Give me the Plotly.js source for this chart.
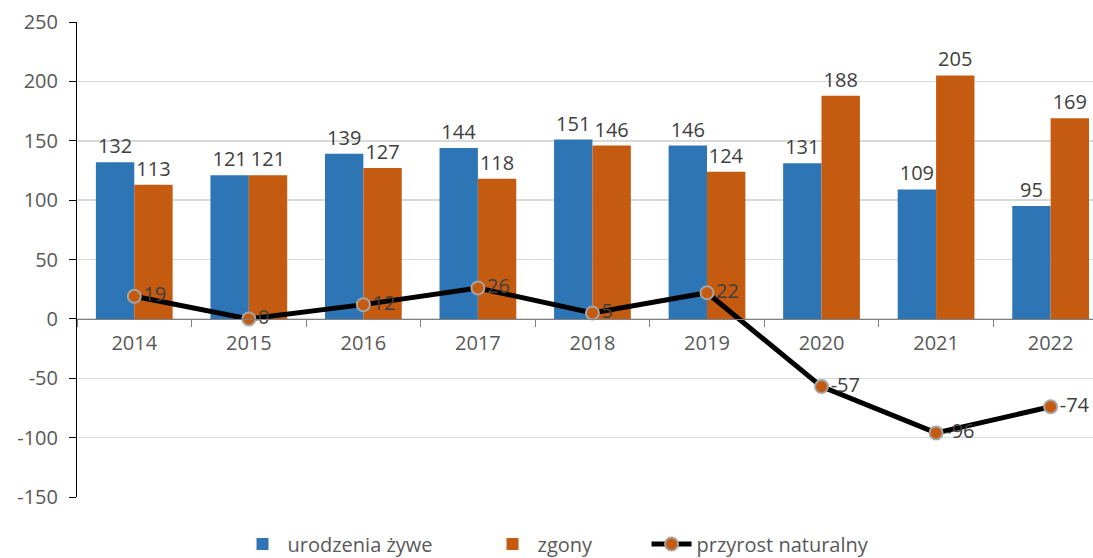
<!DOCTYPE html>
<html><head><meta charset="utf-8">
<script src="https://cdn.plot.ly/plotly-3.0.1.min.js"></script>
<style>html,body{margin:0;padding:0;background:#fff}</style>
</head><body><div id="chart" style="width:1093px;height:558px"></div>
<script>
const years = ['2014','2015','2016','2017','2018','2019','2020','2021','2022'];
const births = [132,121,139,144,151,146,131,109,95];
const deaths = [113,121,127,118,146,124,188,205,169];
const natural = [19,0,12,26,5,22,-57,-96,-74];
const names = ['urodzenia żywe','zgony','przyrost naturalny'];
const yTickVals = [-150,-100,-50,0,50,100,150,200,250];
const yTickText = ['-150','-100','-50','0','50','100','150','200','250'];
const FONT = 'Open Sans, sans-serif';
const txt = {family: FONT, size: 20, color: '#404040'};
const traces = [
  {type:'bar', x:years, y:births, name:names[0], marker:{color:'#2E75B6'}, legendwidth:195,
   text:births.map(String), textposition:'outside', textfont:txt, cliponaxis:false},
  {type:'bar', x:years, y:deaths, name:names[1], marker:{color:'#C55A11'}, legendwidth:104,
   text:deaths.map(String), textposition:'outside', textfont:txt, cliponaxis:false},
  {type:'scatter', mode:'lines+markers+text', x:years, y:natural, name:names[2], legendwidth:220,
   line:{color:'#000000', width:5},
   marker:{color:'#C55A11', size:13, line:{color:'#A5A5A5', width:2}},
   text:natural.map(String), textposition:'middle right', textfont:txt, cliponaxis:false}
];
const layout = {
  width:1093, height:558,
  margin:{l:77, r:0, t:22, b:61, autoexpand:false},
  paper_bgcolor:'#fff', plot_bgcolor:'#fff',
  font:{family:FONT, size:20, color:'#595959'},
  barmode:'group', bargap:0.33, bargroupgap:0,
  showlegend:true,
  legend:{orientation:'h', x:0.158, xanchor:'left', y:-0.099, yanchor:'middle',
          itemwidth:40,
          font:{family:FONT, size:20, color:'#595959'}, traceorder:'normal'},
  xaxis:{type:'category', range:[-0.5, 8.37], anchor:'free', position:0.375,
         showline:true, linecolor:'#808080', linewidth:1.5,
         ticks:'outside', tickson:'boundaries', ticklen:7, tickcolor:'#808080',
         showgrid:false, tickfont:{family:FONT, size:20, color:'#595959'}, ticklabelstandoff:6},
  yaxis:{range:[-150,250], tickmode:'array', tickvals:yTickVals, ticktext:yTickText,
         showgrid:true, gridcolor:'#D9D9D9', gridwidth:1.5,
         zeroline:false, showline:true, linecolor:'#000', linewidth:1,
         ticks:'outside', ticklen:7, tickcolor:'#000', ticklabelstandoff:7,
         tickfont:{family:FONT, size:20, color:'#595959'}}
};
Plotly.newPlot('chart', traces, layout, {displayModeBar:false, staticPlot:true});
</script></body></html>
